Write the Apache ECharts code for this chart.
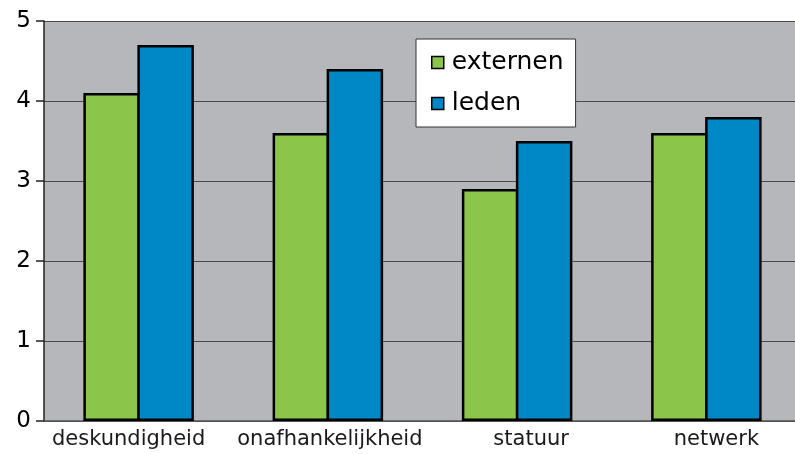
<!DOCTYPE html>
<html><head><meta charset="utf-8">
<script src="https://cdn.jsdelivr.net/npm/echarts@6/dist/echarts.min.js"></script>
<style>html,body{margin:0;padding:0;background:#fff;overflow:hidden}#c{width:801px;height:454px}</style>
</head><body><div id="c"></div>
<script>
const categories = ['deskundigheid', 'onafhankelijkheid', 'statuur', 'netwerk'];
const externen = [4.1, 3.6, 2.9, 3.6];
const leden = [4.7, 4.4, 3.5, 3.8];
const yTicks = [0, 1, 2, 3, 4, 5];
// label nudges (styling only): positive = shift right
const labelShift = [-10, 2, 14, 10];

const chart = echarts.init(document.getElementById('c'));
const font = 'DejaVu Sans';
const bw = 2.5;
chart.setOption({
  animation: false,
  textStyle: { fontFamily: font },
  grid: { left: 44, right: 0, top: 21, bottom: 33, backgroundColor: '#b6b7bb', show: true, borderWidth: 0 },
  legend: {
    orient: 'vertical', left: 416, top: 39, width: 157,
    backgroundColor: '#fff', borderColor: '#333', borderWidth: 1,
    padding: [11, 12, 11, 15], itemGap: 16,
    itemWidth: 12, itemHeight: 12, icon: 'rect',
    textStyle: { fontSize: 25, color: '#000', fontFamily: font, padding: [0, 0, 0, 3] },
    data: [
      { name: 'externen', itemStyle: { borderColor: '#000', borderWidth: 1.5 } },
      { name: 'leden', itemStyle: { borderColor: '#000', borderWidth: 1.5 } }
    ]
  },
  xAxis: {
    type: 'category',
    data: categories.map((c, i) => ({
      value: c,
      textStyle: { padding: labelShift[i] < 0 ? [0, -2 * labelShift[i], 0, 0] : [0, 0, 0, 2 * labelShift[i]] }
    })),
    axisLine: { lineStyle: { color: '#555', width: 1.5 } },
    axisTick: { show: false },
    axisLabel: { interval: 0, fontSize: 21, color: '#1a1a1a', margin: 8, fontFamily: font }
  },
  yAxis: {
    type: 'value', min: yTicks[0], max: yTicks[yTicks.length - 1], interval: 1,
    axisLine: { show: true, lineStyle: { color: '#222', width: 1.5 } },
    axisTick: { show: true, length: 8, lineStyle: { color: '#222', width: 1.5 } },
    axisLabel: { fontSize: 23, color: '#000', margin: 13, fontFamily: font },
    splitLine: { lineStyle: { color: '#4a4a4a', width: 1.2 } }
  },
  series: [
    { name: 'externen', type: 'bar', data: externen, barWidth: 54 + bw, barGap: (-bw / (54 + bw) * 100).toFixed(2) + '%',
      itemStyle: { color: '#8bc64a', borderColor: '#000', borderWidth: bw } },
    { name: 'leden', type: 'bar', data: leden, barWidth: 54 + bw, barGap: (-bw / (54 + bw) * 100).toFixed(2) + '%',
      itemStyle: { color: '#0088c6', borderColor: '#000', borderWidth: bw } }
  ]
});
</script></body></html>
